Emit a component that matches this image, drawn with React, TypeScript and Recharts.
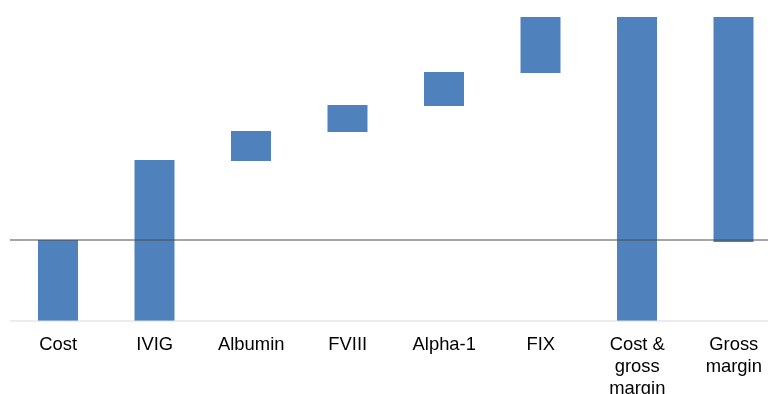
import React from 'react';
import { BarChart, Bar, XAxis, YAxis, ReferenceLine } from 'recharts';

const categories = ['Cost', 'IVIG', 'Albumin', 'FVIII', 'Alpha-1', 'FIX', 'Cost &\ngross\nmargin', 'Gross\nmargin'];
const barLows = [-81, -81, 79, 108, 134, 167, -81, -2];
const barHighs = [0, 80, 109, 135, 168, 223, 223, 223];

const data = categories.map((name, i) => ({ name, range: [barLows[i], barHighs[i]] }));

const Tick = (props: any) => {
  const { x, y, payload } = props;
  const lines = String(payload.value).split('\n');
  return (
    <text x={x} y={y} textAnchor="middle" fill="#000" fontSize={18.4} fontFamily="'Liberation Sans', Arial, sans-serif">
      {lines.map((l, i) => (
        <tspan key={i} x={x} dy={i === 0 ? 29 : 22}>{l}</tspan>
      ))}
    </text>
  );
};

export default function App() {
  return (
    <div style={{ position: 'fixed', top: 8, left: 8, width: 760, height: 386, overflow: 'hidden' }}>
      <BarChart width={774} height={400} data={data} margin={{ top: 9, right: 0, left: 2, bottom: 0 }}>
        <YAxis hide domain={[-81, 223]} allowDataOverflow />
        <XAxis
          dataKey="name"
          height={87}
          interval={0}
          tickLine={false}
          tickSize={0}
          tickMargin={0}
          axisLine={{ stroke: '#d9d9d9', strokeWidth: 1 }}
          tick={<Tick />}
        />
        <Bar dataKey="range" fill="#4f81bd" barSize={40} isAnimationActive={false} />
        <ReferenceLine y={0} stroke="#4d4d4d" strokeWidth={1} ifOverflow="extendDomain" />
      </BarChart>
    </div>
  );
}
